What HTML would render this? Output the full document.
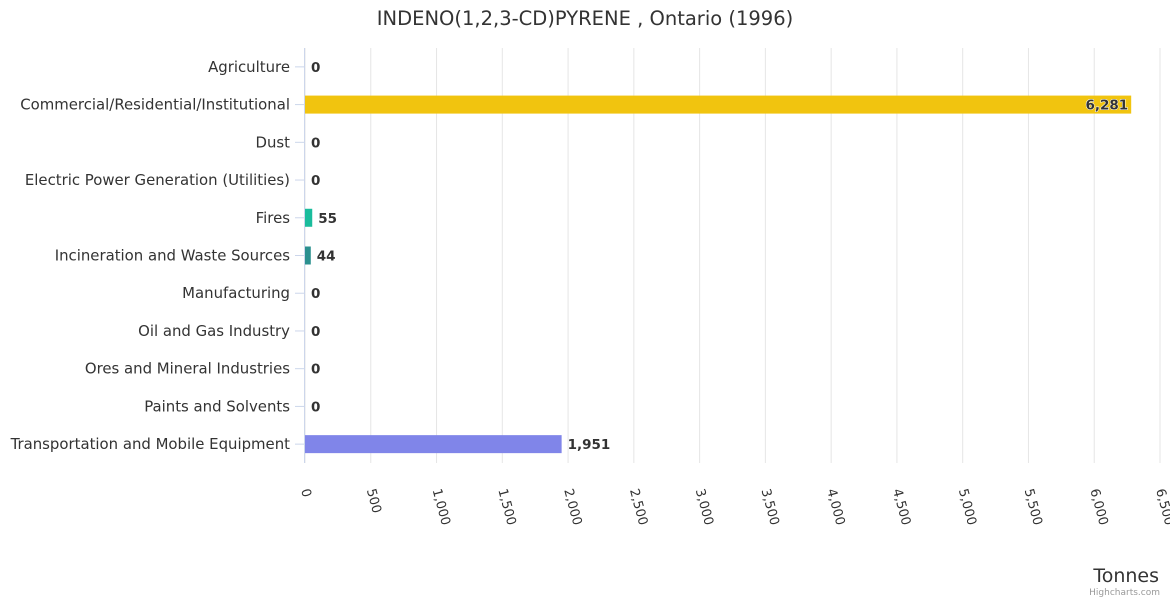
<!DOCTYPE html>
<html><head><meta charset="utf-8"><style>
body{margin:0;background:#fff;font-family:"Liberation Sans","DejaVu Sans",sans-serif}
svg text{font-family:"DejaVu Sans","Liberation Sans",sans-serif}
</style></head><body>
<svg id="c" width="1170" height="600" xmlns="http://www.w3.org/2000/svg"></svg>
<script>
const categories=["Agriculture","Commercial/Residential/Institutional","Dust","Electric Power Generation (Utilities)","Fires","Incineration and Waste Sources","Manufacturing","Oil and Gas Industry","Ores and Mineral Industries","Paints and Solvents","Transportation and Mobile Equipment"];
const values=[0,6281,0,0,55,44,0,0,0,0,1951];
const colors=["#7cb5ec","#f1c40f","#90ed7d","#f7a35c","#1abc9c","#2b908f","#f45b5b","#91e8e1","#8d4653","#e4d354","#8085e9"];
const ticks=[0,500,1000,1500,2000,2500,3000,3500,4000,4500,5000,5500,6000,6500];
const svg=document.getElementById('c');const NS="http://www.w3.org/2000/svg";
const X0=305,X1=1160,Y0=48,Y1=463,MAX=6500;
const x=v=>X0+v/MAX*(X1-X0);
const band=(Y1-Y0)/categories.length;
const yc=i=>Y0+band*(i+0.5);
function mk(t,a,txt){const e=document.createElementNS(NS,t);for(const k in a)e.setAttribute(k,a[k]);if(txt!==undefined)e.textContent=txt;svg.appendChild(e);return e;}
const fmt=v=>v.toLocaleString('en-US');
let t=mk('text',{x:585,y:25,'text-anchor':'middle','font-size':19.5,fill:'#333'},'INDENO(1,2,3-CD)PYRENE , Ontario (1996)');

ticks.forEach(v=>{
 let g=mk('line',{x1:x(v),x2:x(v),y1:Y0,y2:Y1,stroke:'#e6e6e6'});
 
 let l=mk('text',{transform:`translate(${x(v)-4},${490}) rotate(75)`,'font-size':13,fill:'#333'},fmt(v));
 
});
let ax=mk('line',{x1:X0-0.5,x2:X0-0.5,y1:Y0,y2:Y1,stroke:'#ccd6eb'});

categories.forEach((c,i)=>{
 const y=yc(i);
 let tk=mk('line',{x1:X0-10,x2:X0,y1:y,y2:y,stroke:'#ccd6eb'});
 
 let l=mk('text',{x:290,y:y+5,'text-anchor':'end','font-size':14.9,fill:'#333'},c);
 
 const w=x(values[i])-X0;
 if(w>0){let r=mk('rect',{x:X0,y:y-9,width:w,height:18,fill:colors[i]});
 }
 const inside=w>700;
 let d=mk('text',{x:inside?X0+w-3:X0+w+6,y:y+5,'text-anchor':inside?'end':'start','font-size':13.5,'font-weight':'bold',fill:'#333',stroke:'#fff','stroke-width':inside?1:0,'paint-order':'stroke'},fmt(values[i]));
 
});
let at=mk('text',{x:1159,y:582,'text-anchor':'end','font-size':19,fill:'#333'},'Tonnes');

let cr=mk('text',{x:1160,y:595,'text-anchor':'end','font-size':9,fill:'#999'},'Highcharts.com');

</script>
</body></html>
